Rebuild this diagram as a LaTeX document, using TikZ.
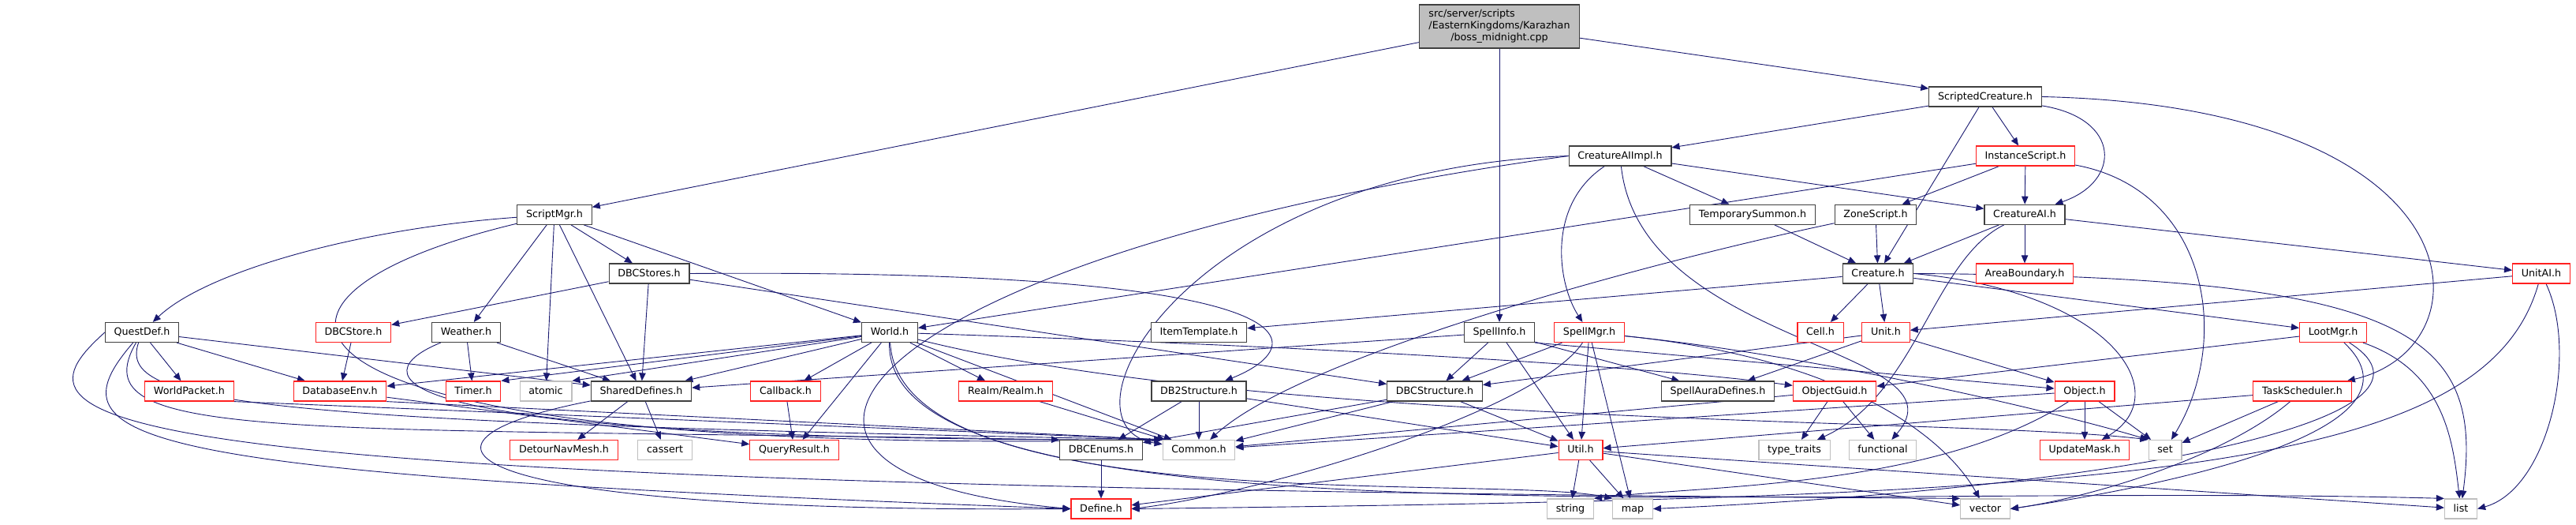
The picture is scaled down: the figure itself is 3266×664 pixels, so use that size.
\documentclass[tikz,border=0pt]{standalone}
\usepackage{fontspec}
\setmainfont{DejaVu Sans}
\usepackage{tikz}
\usetikzlibrary{arrows.meta,backgrounds}
\definecolor{incblue}{HTML}{191970}
\definecolor{hdrline}{HTML}{404040}
\definecolor{truncred}{HTML}{FF2020}
\definecolor{sysgray}{HTML}{BFBFBF}
\definecolor{srcfill}{HTML}{BFBFBF}
\tikzset{
  >={Triangle[length=5pt,width=4.2pt]},
  every node/.style={font=\fontsize{6.35}{7.5}\selectfont,text=black},
  hdr/.style={draw=hdrline,line width=0.6pt,fill=white,inner xsep=5.6pt,inner ysep=0pt,
    minimum height=12.5pt,text height=4.9pt,text depth=1.4pt},
  hdrred/.style={hdr,draw=truncred},
  sysinc/.style={hdr,draw=sysgray},
  srcbox/.style={draw=hdrline,line width=0.6pt,fill=srcfill,inner xsep=6pt,inner ysep=2.5pt},
  inc/.style={->,draw=incblue,line width=0.45pt},
}

\begin{document}
\begin{tikzpicture}[x=0.5pt,y=-0.5pt]
\useasboundingbox (0,0) rectangle (3266,664);

% ---------- source file and first levels ----------
\node[srcbox] (root) at (1901,33.5) {\begin{tabular}{@{}l@{}}src/server/scripts\\/EasternKingdoms/Karazhan\\\multicolumn{1}{@{}c@{}}{/boss\_midnight.cpp}\end{tabular}};
\node[hdr] (scrc) at (2517,122.5) {ScriptedCreature.h};
\node[hdr] (aiimpl) at (2054,197.5) {CreatureAIImpl.h};
\node[hdrred] (inst) at (2568,197.5) {InstanceScript.h};
\node[hdr] (smgr) at (703,271.8) {ScriptMgr.h};
\node[hdr] (tsum) at (2222,271.8) {TemporarySummon.h};
\node[hdr] (zone) at (2378,271.8) {ZoneScript.h};
\node[hdr] (cai) at (2567,271.8) {CreatureAI.h};
\node[hdr] (dbcs) at (823,346.5) {DBCStores.h};
\node[hdr] (crea) at (2381,346.5) {Creature.h};
\node[hdrred] (area) at (2567,346.5) {AreaBoundary.h};
\node[hdrred] (unitai) at (3222,346.5) {UnitAI.h};

% ---------- middle rows ----------
\node[hdr] (qdef) at (180,421) {QuestDef.h};
\node[hdrred] (dbcstore) at (448,421) {DBCStore.h};
\node[hdr] (weather) at (591,421) {Weather.h};
\node[hdr] (world) at (1128,421) {World.h};
\node[hdr] (itemt) at (1520,421) {ItemTemplate.h};
\node[hdr] (sinfo) at (1901,421) {SpellInfo.h};
\node[hdrred] (smgrs) at (2015,421) {SpellMgr.h};
\node[hdrred] (cell) at (2308,421) {Cell.h};
\node[hdrred] (unit) at (2391,421) {Unit.h};
\node[hdrred] (loot) at (2958,421) {LootMgr.h};
\node[hdrred] (wpkt) at (240,495.5) {WorldPacket.h};
\node[hdrred] (dbenv) at (431,495.5) {DatabaseEnv.h};
\node[hdrred] (timer) at (600,495.5) {Timer.h};
\node[sysinc] (atomic) at (692,495.5) {atomic};
\node[hdr] (shdef) at (813,495.5) {SharedDefines.h};
\node[hdrred] (cback) at (996,495.5) {Callback.h};
\node[hdrred] (realm) at (1275,495.5) {Realm/Realm.h};
\node[hdr] (db2) at (1520,495.5) {DB2Structure.h};
\node[hdr] (dbcst) at (1819,495.5) {DBCStructure.h};
\node[hdr] (saura) at (2178,495.5) {SpellAuraDefines.h};
\node[hdrred] (oguid) at (2326,495.5) {ObjectGuid.h};
\node[hdrred] (object) at (2643,495.5) {Object.h};
\node[hdrred] (tasks) at (2919,495.5) {TaskScheduler.h};

% ---------- bottom rows ----------
\node[hdrred] (detour) at (715,570) {DetourNavMesh.h};
\node[sysinc] (cassert) at (843,570) {cassert};
\node[hdrred] (qres) at (1007,570) {QueryResult.h};
\node[hdr] (dbcenum) at (1396,570) {DBCEnums.h};
\node[sysinc] (common) at (1520,570) {Common.h};
\node[hdrred] (util) at (2004,570) {Util.h};
\node[sysinc] (ttraits) at (2275,570) {type\_traits};
\node[sysinc] (func) at (2387,570) {functional};
\node[hdrred] (umask) at (2643,570) {UpdateMask.h};
\node[sysinc] (set) at (2745,570) {set};
\node[hdrred] (define) at (1396,644.5) {Define.h};
\node[sysinc] (string) at (1991,644.5) {string};
\node[sysinc] (map) at (2070,644.5) {map};
\node[sysinc] (vector) at (2517,644.5) {vector};
\node[sysinc] (list) at (3120,644.5) {list};

\begin{scope}[on background layer]
% ---------- top ----------
\foreach \dst in {smgr,sinfo,scrc} {\draw[inc] (root) -- (\dst);}
\foreach \dst in {aiimpl,inst,crea} {\draw[inc] (scrc) -- (\dst);}
\draw[inc] (scrc) .. controls (2690,150) and (2690,230) .. (cai);
\draw[inc] (scrc.east) .. controls (3150,135) and (3160,440) .. (tasks);
\foreach \dst in {tsum,cai} {\draw[inc] (aiimpl) -- (\dst);}
\draw[inc] (aiimpl) .. controls (1960,260) and (1975,360) .. (smgrs);
\draw[inc] (aiimpl.west) .. controls (1500,215) and (1330,540) .. (common);
\draw[inc] (aiimpl.west) .. controls (1100,320) and (850,600) .. (define.west);
\draw[inc] (aiimpl) .. controls (2080,440) and (2500,440) .. (func);
\foreach \dst in {cai,zone,world} {\draw[inc] (inst) -- (\dst);}
\draw[inc] (inst) .. controls (2800,240) and (2830,430) .. (set);

% ---------- ScriptMgr.h ----------
\foreach \dst in {weather,atomic,shdef,dbcs,world} {\draw[inc] (smgr) -- (\dst);}
\draw[inc] (smgr) .. controls (450,290) and (260,345) .. (qdef);
\draw[inc] (smgr) .. controls (250,380) and (300,580) .. (common.north west);

% ---------- CreatureAI.h, Creature.h ----------
\foreach \dst in {crea,area,unitai} {\draw[inc] (cai) -- (\dst);}
\draw[inc] (cai) .. controls (2450,330) and (2430,500) .. (ttraits);
\draw[inc] (tsum) -- (crea);
\draw[inc] (zone) -- (crea);
\draw[inc] (zone) .. controls (2100,330) and (1650,450) .. (common);
\foreach \dst in {cell,unit,loot,itemt} {\draw[inc] (crea) -- (\dst);}
\draw[inc] (crea.east) .. controls (2680,370) and (2760,500) .. (umask);
\draw[inc] (crea.east) .. controls (3050,350) and (3150,420) .. (list);
\draw[inc] (unitai) -- (unit);
\draw[inc] (unitai) .. controls (3150,600) and (2700,630) .. (define.east);
\draw[inc] (unitai) .. controls (3270,450) and (3230,620) .. (list.east);

% ---------- DBCStores.h, QuestDef.h, Weather.h ----------
\foreach \dst in {dbcstore,shdef,dbcst} {\draw[inc] (dbcs) -- (\dst);}
\draw[inc] (dbcs.east) .. controls (1700,340) and (1660,440) .. (db2);
\foreach \dst in {wpkt,dbenv,shdef} {\draw[inc] (qdef) -- (\dst);}
\draw[inc] (qdef) .. controls (150,510) and (300,535) .. (common.north west);
\draw[inc] (qdef) .. controls (100,560) and (350,540) .. (dbcenum.north west);
\draw[inc] (qdef) .. controls (60,560) and (150,600) .. (define.west);
\draw[inc] (qdef.west) .. controls (0,540) and (60,615) .. (vector.north west);
\draw[inc] (dbcstore) -- (dbenv);
\foreach \dst in {timer,shdef} {\draw[inc] (weather) -- (\dst);}
\draw[inc] (weather) .. controls (470,470) and (420,560) .. (common.north west);

% ---------- World.h ----------
\foreach \dst in {dbenv,shdef,cback,qres,realm,common} {\draw[inc] (world) -- (\dst);}
\draw[inc] (world) -- (timer.north east);
\draw[inc] (world) -- (atomic.north east);
\draw[inc] (world) .. controls (1700,440) and (2100,465) .. (oguid);
\draw[inc] (world) .. controls (1600,540) and (2500,530) .. (set.north west);
\draw[inc] (world) .. controls (1140,660) and (1900,600) .. (map.north west);
\draw[inc] (world) .. controls (1120,700) and (2300,610) .. (list.north west);

% ---------- SpellInfo.h, SpellMgr.h ----------
\foreach \dst in {shdef,dbcst,util,saura} {\draw[inc] (sinfo) -- (\dst);}
\draw[inc] (sinfo.south east) -- (object);
\foreach \dst in {dbcst,util,map} {\draw[inc] (smgrs) -- (\dst);}
\draw[inc] (smgrs) .. controls (1950,520) and (1600,625) .. (define.east);
\draw[inc] (smgrs) .. controls (2300,450) and (2600,520) .. (set.north west);
\draw[inc] (smgrs) .. controls (2350,455) and (2470,560) .. (vector);

% ---------- Unit.h, LootMgr.h, TaskScheduler.h ----------
\foreach \dst in {saura,object,dbcst} {\draw[inc] (unit) -- (\dst);}
\draw[inc] (loot) -- (oguid);
\draw[inc] (loot) .. controls (3090,545) and (2750,615) .. (vector.east);
\draw[inc] (loot) .. controls (3130,530) and (2700,618) .. (map.east);
\draw[inc] (loot) .. controls (3100,470) and (3110,560) .. (list);
\foreach \dst in {util,set} {\draw[inc] (tasks) -- (\dst);}
\draw[inc] (tasks) .. controls (2820,580) and (2650,630) .. (vector.east);

% ---------- lower rows ----------
\draw[inc] (wpkt.south east) -- (common.north west);
\draw[inc] (dbenv) -- (qres);
\draw[inc] (dbenv.south east) -- (common.north west);
\foreach \dst in {detour,cassert} {\draw[inc] (shdef) -- (\dst);}
\draw[inc] (shdef) .. controls (480,560) and (560,650) .. (define.west);
\draw[inc] (cback) -- (qres);
\draw[inc] (realm) -- (common);
\foreach \dst in {dbcenum,common,util} {\draw[inc] (db2) -- (\dst);}
\foreach \dst in {common,dbcenum,util} {\draw[inc] (dbcst) -- (\dst);}
\foreach \dst in {ttraits,func,common} {\draw[inc] (oguid) -- (\dst);}
\foreach \dst in {umask,set,common} {\draw[inc] (object) -- (\dst);}
\draw[inc] (object) .. controls (2450,620) and (2150,615) .. (string.north east);
\draw[inc] (dbcenum) -- (define);
\foreach \dst in {define,string,map,vector,list} {\draw[inc] (util) -- (\dst);}
\end{scope}

\end{tikzpicture}
\end{document}
